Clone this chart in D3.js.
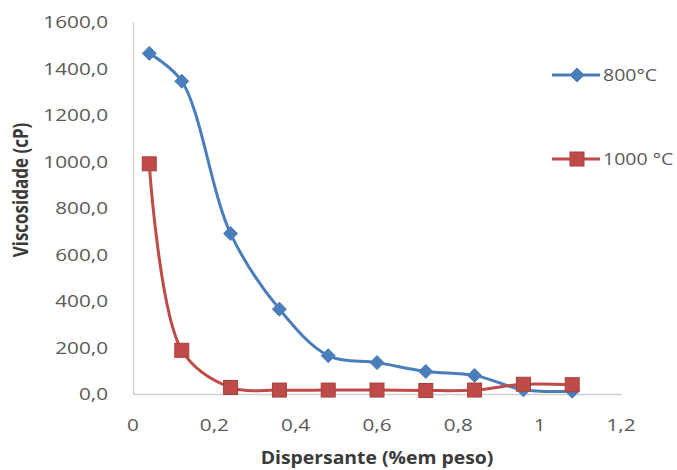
<!DOCTYPE html>
<html>
<head>
<meta charset="utf-8">
<script src="https://cdn.jsdelivr.net/npm/d3@7"></script>
<style>
  html, body { margin: 0; padding: 0; background: #fff; }
  svg { display: block; }
  text { font-family: "Open Sans", "Liberation Sans", sans-serif; }
</style>
</head>
<body>
<svg id="chart" width="677" height="470"></svg>
<script>
// Dispersant content (% by weight)
const dispersante = [0.04, 0.12, 0.24, 0.36, 0.48, 0.60, 0.72, 0.84, 0.96, 1.08];
// Viscosity (cP) for each calcination temperature
const visc800 = [1465, 1345, 690, 365, 165, 135, 97, 80, 18, 12];
const visc1000 = [990, 188, 28, 17, 17, 17, 15, 17, 42, 40];
const seriesNames = ["800°C", "1000 °C"];
const xTicks = [0, 0.2, 0.4, 0.6, 0.8, 1, 1.2];
const yTicks = [0, 200, 400, 600, 800, 1000, 1200, 1400, 1600];

const svg = d3.select("#chart");
const plot = { left: 133, right: 621, top: 22, bottom: 394 };
const WIDEN = 1.22;          // horizontal stretch applied to the labels
const LABEL = "#595959";
const TITLE = "#3a3a3a";

const x = d3.scaleLinear().domain([0, 1.2]).range([plot.left, plot.right]);
const y = d3.scaleLinear().domain([0, 1600]).range([plot.bottom, plot.top]);

const fmtY = d => d3.format(".1f")(d).replace(".", ",");
const fmtX = d => String(d).replace(".", ",");

// Axis lines (labels drawn separately below)
const yAxis = svg.append("g")
  .attr("transform", `translate(${plot.left},0)`)
  .call(d3.axisLeft(y).tickValues(yTicks).tickFormat("").tickSize(0));
const xAxis = svg.append("g")
  .attr("transform", `translate(0,${plot.bottom})`)
  .call(d3.axisBottom(x).tickValues(xTicks).tickFormat("").tickSize(0));
[yAxis, xAxis].forEach(g => {
  g.select(".domain").attr("stroke", "#cfcfcf").attr("stroke-width", 1.3);
});

// Tick labels
svg.append("g").selectAll("text")
  .data(yTicks).join("text")
  .attr("transform", d => `translate(108,${y(d) + 6}) scale(${WIDEN},1)`)
  .attr("text-anchor", "end")
  .attr("fill", LABEL)
  .style("font-size", "17px")
  .text(fmtY);

svg.append("g").selectAll("text")
  .data(xTicks).join("text")
  .attr("transform", d => `translate(${x(d)},431) scale(${WIDEN},1)`)
  .attr("text-anchor", "middle")
  .attr("fill", LABEL)
  .style("font-size", "17px")
  .text(fmtX);

// Axis titles
svg.append("text")
  .attr("transform", `translate(28,190) scale(${WIDEN},1) rotate(-90)`)
  .attr("text-anchor", "middle")
  .attr("fill", TITLE)
  .style("font-size", "17px").style("font-weight", "bold")
  .text("Viscosidade (cP)");

svg.append("text")
  .attr("transform", `translate(${(plot.left + plot.right) / 2},464) scale(1.14,1)`)
  .attr("text-anchor", "middle")
  .attr("fill", TITLE)
  .style("font-size", "17px").style("font-weight", "bold")
  .text("Dispersante (%em peso)");

const line = d3.line()
  .x(d => x(d[0]))
  .y(d => y(d[1]))
  .curve(d3.curveCatmullRom.alpha(0.5));

const series = [
  { name: seriesNames[0], values: visc800, color: "#4a7ebb", shape: "diamond" },
  { name: seriesNames[1], values: visc1000, color: "#be4b48", shape: "square" }
];

function drawMarker(g, shape, color, cx, cy) {
  if (shape === "diamond") {
    g.append("path")
      .attr("d", `M${cx},${cy - 7}L${cx + 7},${cy}L${cx},${cy + 7}L${cx - 7},${cy}Z`)
      .attr("fill", color).attr("stroke", color).attr("stroke-width", 1);
  } else {
    g.append("rect")
      .attr("x", cx - 7).attr("y", cy - 7)
      .attr("width", 14).attr("height", 14)
      .attr("fill", color).attr("stroke", "#a8403d").attr("stroke-width", 1);
  }
}

series.forEach(s => {
  const pts = dispersante.map((d, i) => [d, s.values[i]]);
  const g = svg.append("g");
  g.append("path")
    .attr("d", line(pts))
    .attr("fill", "none")
    .attr("stroke", s.color)
    .attr("stroke-width", 3)
    .attr("stroke-linejoin", "round");
  pts.forEach(p => drawMarker(g, s.shape, s.color, x(p[0]), y(p[1])));
});

// Legend
const legendY = [75, 159];
series.forEach((s, i) => {
  const g = svg.append("g");
  g.append("line")
    .attr("x1", 552).attr("x2", 600)
    .attr("y1", legendY[i]).attr("y2", legendY[i])
    .attr("stroke", s.color).attr("stroke-width", 3);
  drawMarker(g, s.shape, s.color, 577, legendY[i]);
  g.append("text")
    .attr("transform", `translate(603,${legendY[i] + 6}) scale(${WIDEN},1)`)
    .attr("fill", LABEL)
    .style("font-size", "16px")
    .text(s.name);
});
</script>
</body>
</html>
